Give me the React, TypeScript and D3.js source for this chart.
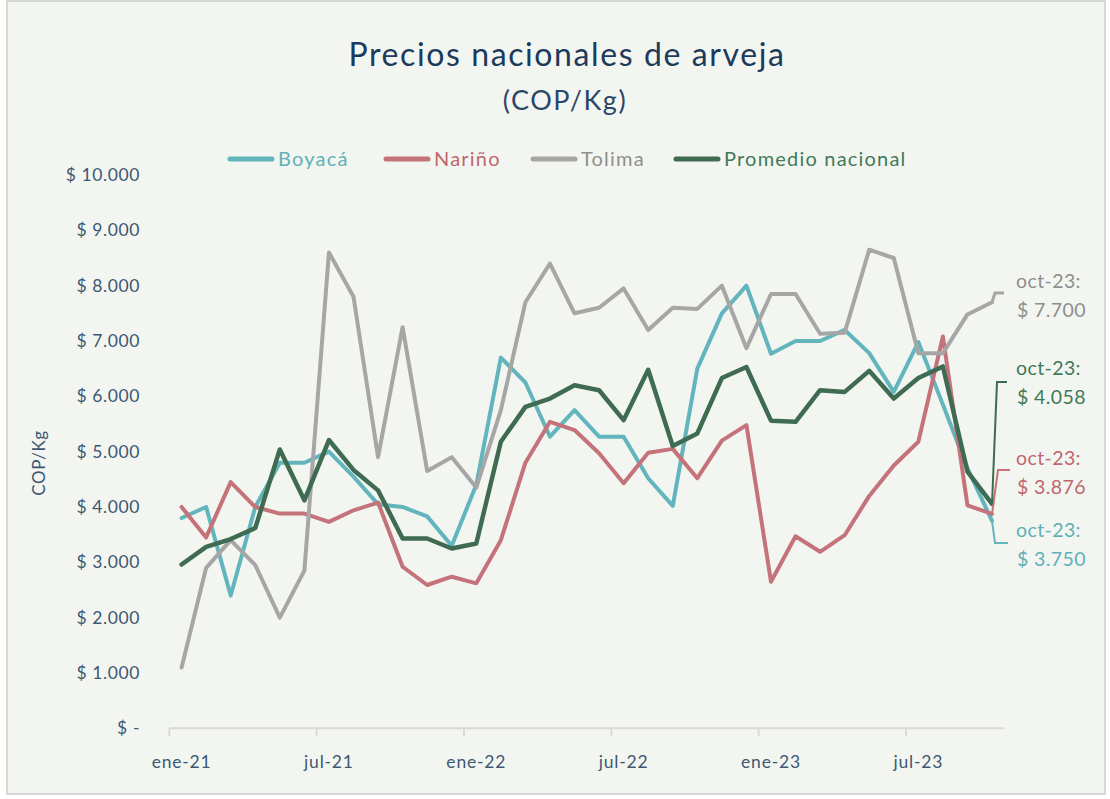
import React, { useEffect, useRef } from 'react';
import * as d3 from 'd3';

// meses ene-21 .. oct-23
const months = [
  'ene-21', 'feb-21', 'mar-21', 'abr-21', 'may-21', 'jun-21', 'jul-21', 'ago-21', 'sep-21', 'oct-21', 'nov-21', 'dic-21',
  'ene-22', 'feb-22', 'mar-22', 'abr-22', 'may-22', 'jun-22', 'jul-22', 'ago-22', 'sep-22', 'oct-22', 'nov-22', 'dic-22',
  'ene-23', 'feb-23', 'mar-23', 'abr-23', 'may-23', 'jun-23', 'jul-23', 'ago-23', 'sep-23', 'oct-23'
];

const boyaca = [
  3800, 4000, 2400, 4000, 4800, 4800, 5000, 4550, 4050, 4000, 3830, 3300,
  4400, 6700, 6250, 5270, 5750, 5270, 5270, 4520, 4020, 6500, 7500, 8000,
  6770, 7000, 7000, 7200, 6780, 6080, 6980, 5850, 4700, 3750
];
const narino = [
  4000, 3450, 4450, 4000, 3880, 3880, 3730, 3940, 4080, 2920, 2590, 2740,
  2620, 3400, 4800, 5540, 5390, 4970, 4430, 4980, 5050, 4520, 5200, 5480,
  2650, 3470, 3190, 3490, 4200, 4750, 5180, 7080, 4030, 3876
];
const tolima = [
  1100, 2900, 3400, 2950, 2000, 2850, 8600, 7800, 4900, 7250, 4650, 4900,
  4350, 5750, 7700, 8400, 7500, 7600, 7950, 7200, 7600, 7580, 8000, 6870,
  7850, 7850, 7130, 7150, 8650, 8500, 6780, 6780, 7480, 7700
];
const promedio = [
  2960, 3280, 3420, 3620, 5040, 4120, 5210, 4670, 4300, 3430, 3430, 3250,
  3340, 5180, 5810, 5960, 6200, 6110, 5570, 6480, 5100, 5330, 6330, 6530,
  5560, 5540, 6110, 6080, 6460, 5960, 6330, 6540, 4640, 4058
];

const seriesNames = ['Boyacá', 'Nariño', 'Tolima', 'Promedio nacional'];
const seriesColors = ['#62b5bd', '#c4737a', '#a6a6a6', '#3e6b52'];
const labelColors = ['#5fb0b8', '#c0666e', '#8e8e8e', '#3f7a58'];
const yTicks = [0, 1000, 2000, 3000, 4000, 5000, 6000, 7000, 8000, 9000, 10000];

const W = 1110;
const H = 799;
const FONT = 'Lato, "Open Sans", sans-serif';
const AXIS_TEXT = '#3d5873';

export default function App() {
  const svgRef = useRef<SVGSVGElement>(null);

  useEffect(() => {
    if (!svgRef.current) return;
    const svg = d3.select(svgRef.current);
    svg.selectAll('*').remove();

    const allSeries = [boyaca, narino, tolima, promedio];

    // background + frame
    svg.append('rect')
      .attr('x', 7).attr('y', 1)
      .attr('width', W - 12).attr('height', H - 6)
      .attr('fill', '#f3f6f0')
      .attr('stroke', '#d6d8d4')
      .attr('stroke-width', 2);

    const x = d3.scaleBand<string>()
      .domain(months)
      .range([169.3, 1004.3])
      .padding(0);
    const cx = (m: string) => (x(m) || 0) + x.bandwidth() / 2;

    const y = d3.scaleLinear()
      .domain([0, 10000])
      .range([728.3, 175]);

    // title
    svg.append('text')
      .attr('x', 567).attr('y', 66)
      .attr('text-anchor', 'middle')
      .style('font-family', FONT)
      .style('font-size', '32px')
      .style('letter-spacing', '1.6px')
      .style('fill', '#1c3a5c')
      .text('Precios nacionales de arveja');
    svg.append('text')
      .attr('x', 565).attr('y', 110)
      .attr('text-anchor', 'middle')
      .style('font-family', FONT)
      .style('font-size', '27px')
      .style('letter-spacing', '1.5px')
      .style('fill', '#2b4767')
      .text('(COP/Kg)');

    // legend
    const legendX = [228, 384, 531, 674];
    seriesNames.forEach((name, i) => {
      const g = svg.append('g').attr('transform', `translate(${legendX[i]},159)`);
      g.append('line')
        .attr('x1', 2).attr('x2', 44)
        .attr('stroke', seriesColors[i])
        .attr('stroke-width', 5)
        .attr('stroke-linecap', 'round');
      g.append('text')
        .attr('x', 50).attr('y', 7)
        .style('font-family', FONT)
        .style('font-size', '20px')
        .style('letter-spacing', '1.2px')
        .style('fill', labelColors[i])
        .text(name);
    });

    // y axis labels
    const yAxis = svg.append('g').attr('transform', 'translate(140,0)')
      .call(d3.axisLeft(y).tickValues(yTicks).tickSize(0).tickPadding(0)
        .tickFormat((d: any) => Number(d) === 0 ? '$ -' : '$ ' + d3.format(',')(Number(d)).replace(/,/g, '.')));
    yAxis.select('.domain').remove();
    yAxis.selectAll('text')
      .style('font-family', FONT)
      .style('font-size', '17.5px')
      .style('letter-spacing', '0.6px')
      .style('fill', AXIS_TEXT);

    svg.append('text')
      .attr('transform', 'translate(45,463) rotate(-90)')
      .attr('text-anchor', 'middle')
      .style('font-family', FONT)
      .style('font-size', '17px')
      .style('letter-spacing', '0.6px')
      .style('fill', AXIS_TEXT)
      .text('COP/Kg');

    // x axis
    const xAxisG = svg.append('g');
    xAxisG.append('line')
      .attr('x1', x.range()[0]).attr('x2', x.range()[1])
      .attr('y1', y(0)).attr('y2', y(0))
      .attr('stroke', '#d9d9d9').attr('stroke-width', 2);
    months.forEach((m, i) => {
      if (i % 6 !== 0) return;
      xAxisG.append('line')
        .attr('x1', x(m) || 0).attr('x2', x(m) || 0)
        .attr('y1', y(0)).attr('y2', y(0) + 8)
        .attr('stroke', '#d9d9d9').attr('stroke-width', 2);
      xAxisG.append('text')
        .attr('x', cx(m)).attr('y', y(0) + 40)
        .attr('text-anchor', 'middle')
        .style('font-family', FONT)
        .style('font-size', '17.5px')
        .style('letter-spacing', '0.8px')
        .style('fill', AXIS_TEXT)
        .text(m);
    });

    // lines
    const line = d3.line<number>()
      .x((_: number, i: number) => cx(months[i]))
      .y((d: number) => y(d));
    allSeries.forEach((s, i) => {
      svg.append('path')
        .datum(s)
        .attr('fill', 'none')
        .attr('stroke', seriesColors[i])
        .attr('stroke-width', i === 3 ? 4.5 : 4)
        .attr('stroke-linejoin', 'round')
        .attr('stroke-linecap', 'round')
        .attr('d', line);
    });

    // callouts for last month
    const last = months[months.length - 1];
    const lx = cx(last);
    const callouts = [
      { s: 0, bend: [995, 543], end: 1008, ty: 537 },
      { s: 1, bend: [998, 470], end: 1010, ty: 465 },
      { s: 2, bend: [995, 293], end: 1004, ty: 288 },
      { s: 3, bend: [997, 382], end: 1007, ty: 375 }
    ];
    callouts.forEach(c => {
      const vals = allSeries[c.s];
      const v = vals[vals.length - 1];
      svg.append('path')
        .attr('d', `M${lx},${y(v)}L${c.bend[0]},${c.bend[1]}L${c.end},${c.bend[1]}`)
        .attr('fill', 'none')
        .attr('stroke', seriesColors[c.s])
        .attr('stroke-width', c.s === 2 ? 3 : 2);
      const t = svg.append('text')
        .style('font-family', FONT)
        .style('font-size', '19.5px')
        .style('letter-spacing', '0.4px')
        .style('fill', labelColors[c.s]);
      t.append('tspan').attr('x', 1016).attr('y', c.ty).text(`${last}:`);
      t.append('tspan').attr('x', 1017).attr('y', c.ty + 29)
        .text('$ ' + d3.format(',')(v).replace(/,/g, '.'));
    });
  }, []);

  return (
    <div style={{ position: 'absolute', left: 0, top: 0 }}>
      <svg ref={svgRef} width={W} height={H} style={{ display: 'block' }} />
    </div>
  );
}
